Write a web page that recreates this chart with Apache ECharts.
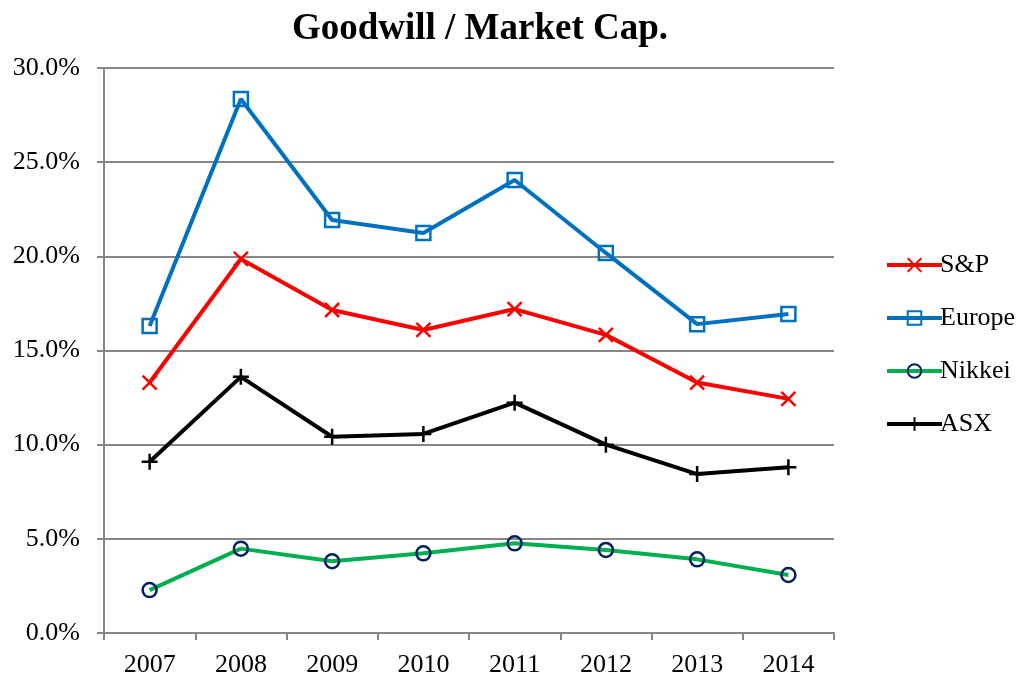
<!DOCTYPE html>
<html>
<head>
<meta charset="utf-8">
<script src="https://cdn.jsdelivr.net/npm/echarts@6/dist/echarts.min.js"></script>
<style>html,body{margin:0;padding:0;background:#fff;}#c{width:1019px;height:676px;}</style>
</head>
<body>
<div id="c"></div>
<script>
const years = ['2007','2008','2009','2010','2011','2012','2013','2014'];
const sp = [13.3, 19.86, 17.15, 16.09, 17.2, 15.83, 13.3, 12.43];
const europe = [16.3, 28.35, 21.93, 21.24, 24.05, 20.18, 16.4, 16.94];
const nikkei = [2.28, 4.48, 3.81, 4.23, 4.76, 4.41, 3.91, 3.08];
const asx = [9.09, 13.6, 10.42, 10.57, 12.23, 10.0, 8.44, 8.8];

const serif = '"Liberation Serif", "Times New Roman", serif';
const chart = echarts.init(document.getElementById('c'), null, {renderer: 'canvas'});
const crossPath = 'path://M0,0L10,10M10,0L0,10';
const plusPath = 'path://M5,0L5,10M0,5L10,5';

function mk(name, data, color, symbol, size, markerColor, fill, bw) {
  return {
    name: name, type: 'line', data: data,
    symbol: symbol, symbolSize: size, showAllSymbol: true,
    lineStyle: {color: color, width: 4},
    itemStyle: {color: fill, borderColor: markerColor, borderWidth: bw},
    emphasis: {disabled: true},
    animation: false
  };
}

chart.setOption({
  animation: false,
  backgroundColor: '#fff',
  title: {
    text: 'Goodwill / Market Cap.',
    left: 475, top: 6, textAlign: 'center',
    textStyle: {fontFamily: serif, fontSize: 37, fontWeight: 'bold', color: '#000'}
  },
  grid: {left: 104, right: 185, top: 68, bottom: 43, containLabel: false, outerBoundsMode: 'none'},
  legend: {
    orient: 'vertical', left: 880, top: 247,
    itemWidth: 55, itemHeight: 17, itemGap: 27,
    lineStyle: {width: 4},
    textStyle: {fontFamily: serif, fontSize: 26, color: '#000', padding: [0,0,0,-7]},
    data: ['S&P', 'Europe', 'Nikkei', 'ASX']
  },
  xAxis: {
    type: 'category', data: years, boundaryGap: true,
    axisLine: {lineStyle: {color: '#858585', width: 2}},
    axisTick: {show: true, length: 7, inside: false, lineStyle: {color: '#858585', width: 2}},
    axisLabel: {fontFamily: serif, fontSize: 26, color: '#000', margin: 19}
  },
  yAxis: {
    type: 'value', min: 0, max: 30, interval: 5,
    axisLine: {show: true, lineStyle: {color: '#858585', width: 2}},
    axisTick: {show: true, length: 7, lineStyle: {color: '#858585', width: 2}},
    splitLine: {lineStyle: {color: '#868686', width: 2}},
    axisLabel: {fontFamily: serif, fontSize: 26, color: '#000', margin: 24,
      formatter: v => v.toFixed(1) + '%'}
  },
  series: [
    mk('S&P', sp, '#FF0000', crossPath, 14, '#FF0000', '#FF0000', 2.5),
    mk('Europe', europe, '#0070C0', 'rect', 14, '#0070C0', 'rgba(255,255,255,0)', 2.5),
    mk('Nikkei', nikkei, '#00B050', 'circle', 14, '#002060', 'rgba(255,255,255,0)', 2.5),
    mk('ASX', asx, '#000000', plusPath, 16, '#000000', '#000000', 2.5)
  ]
});
</script>
</body>
</html>
